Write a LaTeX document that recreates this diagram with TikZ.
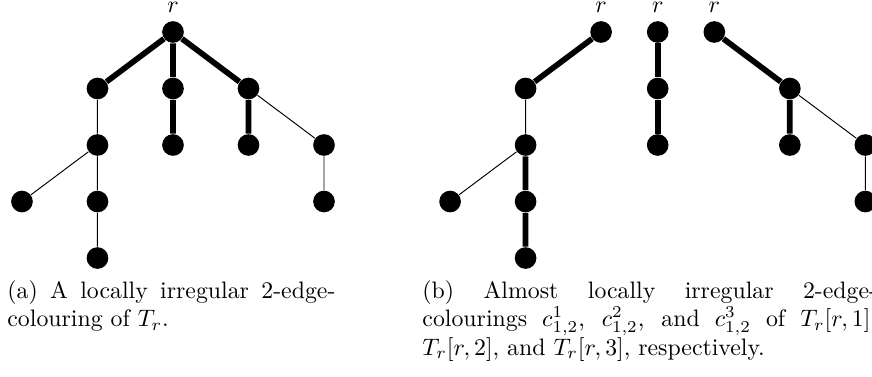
\documentclass[tikz,border=0pt]{standalone}

\begin{document}
\begin{tikzpicture}[x=31.72pt, y=23.74pt,
    vtx/.style={circle, fill=black, inner sep=0pt, minimum size=9.1pt},
    heavy/.style={line width=2.4pt},
    capt/.style={anchor=base west, inner sep=0pt, align=justify}]

    \useasboundingbox (-2.291,0.566) rectangle (9.258,-6.088);

    % (a) colouring of the whole tree
    \node[vtx, label={above:$r$}] (r) at (0,0) {};
    \node[vtx] (a1) at (-1,-1) {};
    \node[vtx] (a2) at (0,-1) {};
    \node[vtx] (a3) at (1,-1) {};
    \node[vtx] (b1) at (-1,-2) {};
    \node[vtx] (b2) at (0,-2) {};
    \node[vtx] (b3) at (1,-2) {};
    \node[vtx] (b4) at (2,-2) {};
    \node[vtx] (c1) at (-2,-3) {};
    \node[vtx] (c2) at (-1,-3) {};
    \node[vtx] (c3) at (2,-3) {};
    \node[vtx] (d1) at (-1,-4) {};

    \draw[heavy] (r) -- (a1) (r) -- (a2) (r) -- (a3) (a2) -- (b2) (a3) -- (b3);
    \draw (a1) -- (b1) -- (c2) -- (d1) (b1) -- (c1) (a3) -- (b4) -- (c3);

    % (b) the three branches at r
    \node[vtx, label={above:$r$}] (p0) at (5.67,0) {};
    \node[vtx] (p1) at (4.67,-1) {};
    \node[vtx] (p2) at (4.67,-2) {};
    \node[vtx] (p3) at (3.67,-3) {};
    \node[vtx] (p4) at (4.67,-3) {};
    \node[vtx] (p5) at (4.67,-4) {};

    \node[vtx, label={above:$r$}] (q0) at (6.42,0) {};
    \node[vtx] (q1) at (6.42,-1) {};
    \node[vtx] (q2) at (6.42,-2) {};

    \node[vtx, label={above:$r$}] (t0) at (7.17,0) {};
    \node[vtx] (t1) at (8.17,-1) {};
    \node[vtx] (t2) at (8.17,-2) {};
    \node[vtx] (t3) at (9.17,-2) {};
    \node[vtx] (t4) at (9.17,-3) {};

    \draw[heavy] (p0) -- (p1) (p2) -- (p4) -- (p5);
    \draw (p1) -- (p2) -- (p3);
    \draw[heavy] (q0) -- (q1) -- (q2);
    \draw[heavy] (t0) -- (t1) -- (t2);
    \draw (t1) -- (t3) -- (t4);

    % captions
    \node[capt, text width=137.8pt] (capa) at (-2.199,-4.708)
        {(a) A locally irregular 2-edge-\linebreak colouring of $T_r$.};
    \node[capt, text width=191pt] (capb) at (3.298,-4.708)
        {(b) Almost locally irregular 2-edge-\linebreak colourings $c^1_{1,2}$, $c^2_{1,2}$, and $c^3_{1,2}$ of $T_r[r,1]$,\linebreak $T_r[r,2]$, and $T_r[r,3]$, respectively.};

\end{tikzpicture}
\end{document}
